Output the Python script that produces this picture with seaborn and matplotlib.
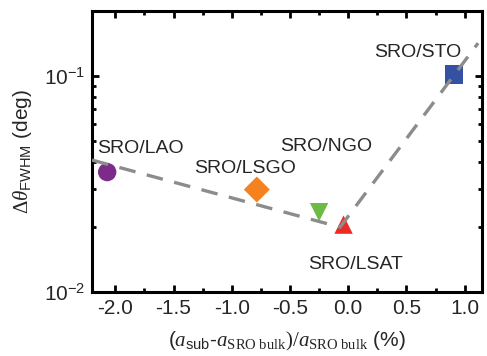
import numpy as np
import pandas as pd
import matplotlib
matplotlib.use("Agg")
import matplotlib.pyplot as plt
from matplotlib.ticker import MultipleLocator, LogLocator, NullFormatter
import seaborn as sns

# ---- data ----
samples  = ["SRO/LAO", "SRO/LSGO", "SRO/NGO", "SRO/LSAT", "SRO/STO"]
mismatch = [-2.07, -0.785, -0.25, -0.04, 0.91]          # (a_sub - a_SRO)/a_SRO (%)
fwhm     = [0.0359, 0.0298, 0.0234, 0.0205, 0.1016]     # delta theta FWHM (deg)
markers  = ["o", "D", "v", "^", "s"]
colors   = ["#7D2B8B", "#F5821F", "#6CBB45", "#EE2A24", "#3451A3"]

# guide line (dashed)
guide_x = [-2.2, -0.07, 1.115]
guide_y = [0.0408, 0.01995, 0.142]

# label positions
lab_x = [-1.785, -0.884, -0.19, 0.06, 0.60]
lab_y = [0.0464, 0.0374, 0.0474, 0.01337, 0.129]

df = pd.DataFrame({"sample": samples, "x": mismatch, "y": fwhm})

# ---- style ----
sns.set_theme(style="ticks")
plt.rcParams["font.family"] = ["Liberation Sans", "DejaVu Sans"]
plt.rcParams["mathtext.fontset"] = "custom"
plt.rcParams["mathtext.rm"] = "Liberation Serif"
plt.rcParams["mathtext.it"] = "Liberation Serif:italic"
plt.rcParams["mathtext.sf"] = "Liberation Sans"
plt.rcParams["mathtext.default"] = "regular"
plt.rcParams["axes.unicode_minus"] = False

fig = plt.figure(figsize=(4.87, 3.56), dpi=100)
ax = fig.add_axes([0.189, 0.180, 0.801, 0.789])

sns.scatterplot(data=df, x="x", y="y", hue="sample", style="sample",
                palette=dict(zip(samples, colors)),
                markers=dict(zip(samples, markers)),
                s=175, linewidth=0, legend=False, ax=ax, zorder=2)

sns.lineplot(x=guide_x, y=guide_y, sort=False, ax=ax, color="#8C8C8C",
             linewidth=2.4, linestyle=(0, (5, 3.5)), zorder=3)

for name, tx, ty in zip(samples, lab_x, lab_y):
    ax.text(tx, ty, name, ha="center", va="center", fontsize=14)

ax.set_yscale("log")
ax.set_xlim(-2.2, 1.15)
ax.set_ylim(0.01, 0.2)

ax.xaxis.set_major_locator(MultipleLocator(0.5))
ax.xaxis.set_minor_locator(MultipleLocator(0.25))
ax.xaxis.set_major_formatter(plt.FuncFormatter(lambda v, _: f"{v:.1f}"))
ax.yaxis.set_major_locator(LogLocator(base=10))
ax.yaxis.set_minor_locator(LogLocator(base=10, subs=np.arange(2, 10)))
ax.yaxis.set_minor_formatter(NullFormatter())
ax.yaxis.set_major_formatter(plt.FuncFormatter(
    lambda v, _: r"10$^{%d}$" % round(np.log10(v))))

ax.tick_params(which="both", direction="in", top=True, right=True,
               width=2, color="black")
ax.tick_params(which="major", length=5, labelsize=15, pad=5)
ax.tick_params(which="minor", length=3)
for sp in ax.spines.values():
    sp.set_linewidth(2.2)
    sp.set_color("black")

ax.set_xlabel(r"$(\mathit{a}_{\mathsf{sub}}$-$\mathit{a}_{\mathrm{SRO\ bulk}}\mathit{)/a}_{\mathrm{SRO\ bulk}}$ (%)",
              fontsize=15, labelpad=9)
ax.set_ylabel(r"$\mathit{\Delta\theta}_{\mathsf{FWHM}}$ (deg)", fontsize=15, labelpad=7)

fig.savefig("out.png", dpi=100)
